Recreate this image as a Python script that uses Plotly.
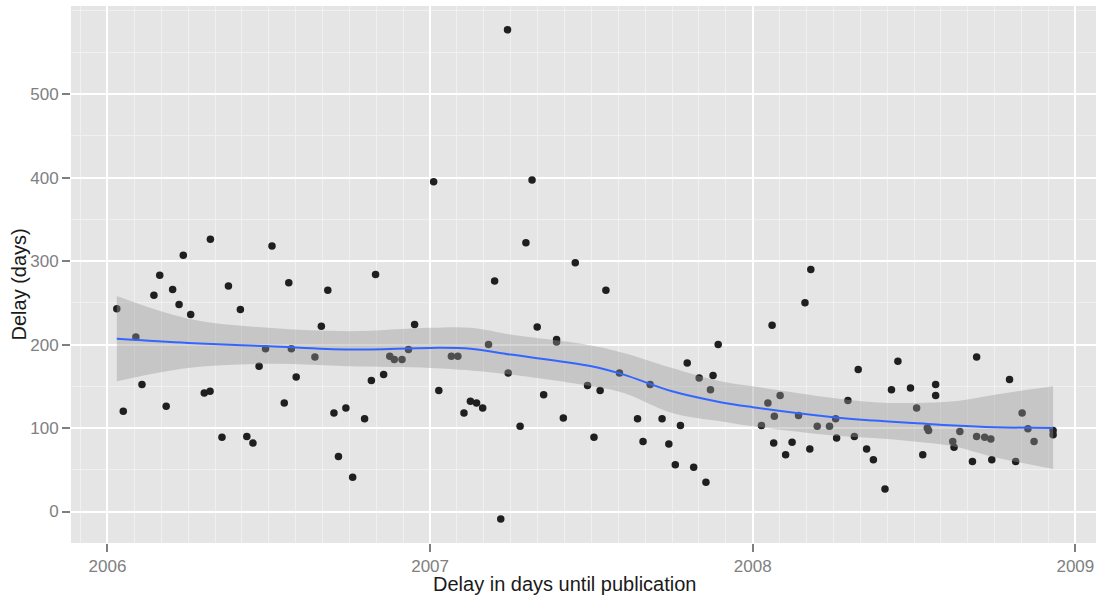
import plotly.graph_objects as go

# Scatter data: publication date (decimal year) and delay (days)
pub_year = [
    2006.029, 2006.049, 2006.088, 2006.107, 2006.144, 2006.162, 2006.182, 2006.202,
    2006.222, 2006.235, 2006.258, 2006.300, 2006.318, 2006.319, 2006.355, 2006.375,
    2006.412, 2006.432, 2006.451, 2006.470, 2006.490, 2006.510, 2006.548, 2006.562,
    2006.570, 2006.585, 2006.643, 2006.663, 2006.683, 2006.702, 2006.716, 2006.739,
    2006.760, 2006.797, 2006.818, 2006.831, 2006.856, 2006.875, 2006.889, 2006.913,
    2006.933, 2006.952, 2007.011, 2007.027, 2007.066, 2007.086, 2007.105, 2007.125,
    2007.144, 2007.163, 2007.181, 2007.200, 2007.219, 2007.240, 2007.242, 2007.279,
    2007.297, 2007.316, 2007.332, 2007.352, 2007.392, 2007.392, 2007.413, 2007.450,
    2007.488, 2007.508, 2007.527, 2007.545, 2007.587, 2007.643, 2007.660, 2007.682,
    2007.719, 2007.740, 2007.760, 2007.776, 2007.797, 2007.817, 2007.834, 2007.855,
    2007.869, 2007.877, 2007.893, 2008.027, 2008.047, 2008.060, 2008.065, 2008.067,
    2008.085, 2008.102, 2008.122, 2008.142, 2008.162, 2008.177, 2008.180, 2008.200,
    2008.238, 2008.257, 2008.260, 2008.295, 2008.315, 2008.327, 2008.353, 2008.374,
    2008.410, 2008.430, 2008.450, 2008.489, 2008.508, 2008.527, 2008.541, 2008.545,
    2008.567, 2008.567, 2008.620, 2008.624, 2008.642, 2008.681, 2008.694, 2008.694,
    2008.719, 2008.738, 2008.741, 2008.796, 2008.815, 2008.835, 2008.853, 2008.872,
    2008.931, 2008.931,
]
delay_days = [
    243, 120, 209, 152, 259, 283, 126, 266,
    248, 307, 236, 142, 144, 326, 89, 270,
    242, 90, 82, 174, 195, 318, 130, 274,
    195, 161, 185, 222, 265, 118, 66, 124,
    41, 111, 157, 284, 164, 186, 182, 182,
    194, 224, 395, 145, 186, 186, 118, 132,
    130, 124, 200, 276, -9, 577, 166, 102,
    322, 397, 221, 140, 206, 203, 112, 298,
    151, 89, 145, 265, 166, 111, 84, 152,
    111, 81, 56, 103, 178, 53, 160, 35,
    146, 163, 200, 103, 130, 223, 82, 114,
    139, 68, 83, 115, 250, 75, 290, 102,
    102, 111, 88, 133, 90, 170, 75, 62,
    27, 146, 180, 148, 124, 68, 100, 97,
    152, 139, 84, 77, 96, 60, 185, 90,
    89, 87, 62, 158, 60, 118, 99, 84,
    97, 92,
]

# Smoother (loess) curve and confidence band
smooth_x = [2006.029, 2006.25, 2006.5, 2006.75, 2007.0, 2007.125, 2007.25, 2007.5,
            2007.6, 2007.75, 2007.9, 2008.0, 2008.25, 2008.375, 2008.5, 2008.625,
            2008.75, 2008.931]
smooth_y = [207, 202, 198, 194, 196, 195, 188, 174,
            164, 144, 131, 125, 113, 109, 106, 103,
            101, 100]
smooth_lo = [156, 172, 177, 174, 172, 169, 164, 150,
             142, 118, 108, 102, 91, 88, 84, 78,
             65, 51]
smooth_hi = [258, 231, 220, 216, 220, 220, 212, 199,
             190, 172, 156, 150, 136, 131, 130, 132,
             140, 150]

x_ticks = [2006, 2007, 2008, 2009]
y_ticks = [0, 100, 200, 300, 400, 500]
x_title = "Delay in days until publication"
y_title = "Delay (days)"

fig = go.Figure()

fig.add_trace(go.Scatter(
    x=pub_year, y=delay_days, mode="markers",
    marker=dict(size=7.5, color="#1f1f1f"),
    showlegend=False, hoverinfo="skip",
))
fig.add_trace(go.Scatter(
    x=smooth_x, y=smooth_hi, mode="lines", line=dict(width=0, shape="spline"),
    showlegend=False, hoverinfo="skip",
))
fig.add_trace(go.Scatter(
    x=smooth_x, y=smooth_lo, mode="lines", line=dict(width=0, shape="spline"),
    fill="tonexty", fillcolor="rgba(153,153,153,0.4)",
    showlegend=False, hoverinfo="skip",
))
fig.add_trace(go.Scatter(
    x=smooth_x, y=smooth_y, mode="lines",
    line=dict(color="#3366FF", width=2, shape="spline"),
    showlegend=False, hoverinfo="skip",
))

font_family = "Liberation Sans, Arial, sans-serif"
fig.update_layout(
    width=1096, height=596,
    margin=dict(l=71, r=0, t=6, b=53),
    paper_bgcolor="white",
    plot_bgcolor="#E5E5E5",
    font=dict(family=font_family, color="#7F7F7F", size=17),
    xaxis=dict(
        range=[2005.887, 2009.064],
        automargin=False,
        tickmode="array", tickvals=x_ticks, ticktext=[str(v) for v in x_ticks],
        showgrid=True, gridcolor="white", gridwidth=2,
        zeroline=False, showline=False,
        ticks="outside", ticklen=8, tickwidth=1.5, tickcolor="#7F7F7F",
        tickfont=dict(size=17, color="#808080"),
        minor=dict(dtick=1/12, tick0=2006, showgrid=True, gridcolor="#F0F0F0", gridwidth=1),
    ),
    yaxis=dict(
        range=[-37.7, 605.5],
        automargin=False,
        tickmode="array", tickvals=y_ticks, ticktext=[str(v) for v in y_ticks],
        showgrid=True, gridcolor="white", gridwidth=2,
        zeroline=False, showline=False,
        ticks="outside", ticklen=8, tickwidth=1.5, tickcolor="#7F7F7F",
        tickfont=dict(size=17, color="#808080"),
        minor=dict(dtick=50, tick0=0, showgrid=True, gridcolor="#F0F0F0", gridwidth=1),
    ),
    annotations=[
        dict(text=x_title, xref="paper", yref="paper", x=0, y=0,
             xanchor="center", yanchor="middle", xshift=565 - 71, yshift=-40.5,
             showarrow=False, font=dict(size=20, color="#1a1a1a")),
        dict(text=y_title, xref="paper", yref="paper", x=0, y=0.5,
             xanchor="center", yanchor="middle", xshift=-52.5, yshift=-10.5,
             textangle=-90, showarrow=False, font=dict(size=20, color="#1a1a1a")),
    ],
)

fig.write_html("out.html",
               config={"displayModeBar": False},
               post_script="document.body.style.margin='0';document.body.style.padding='0';")
